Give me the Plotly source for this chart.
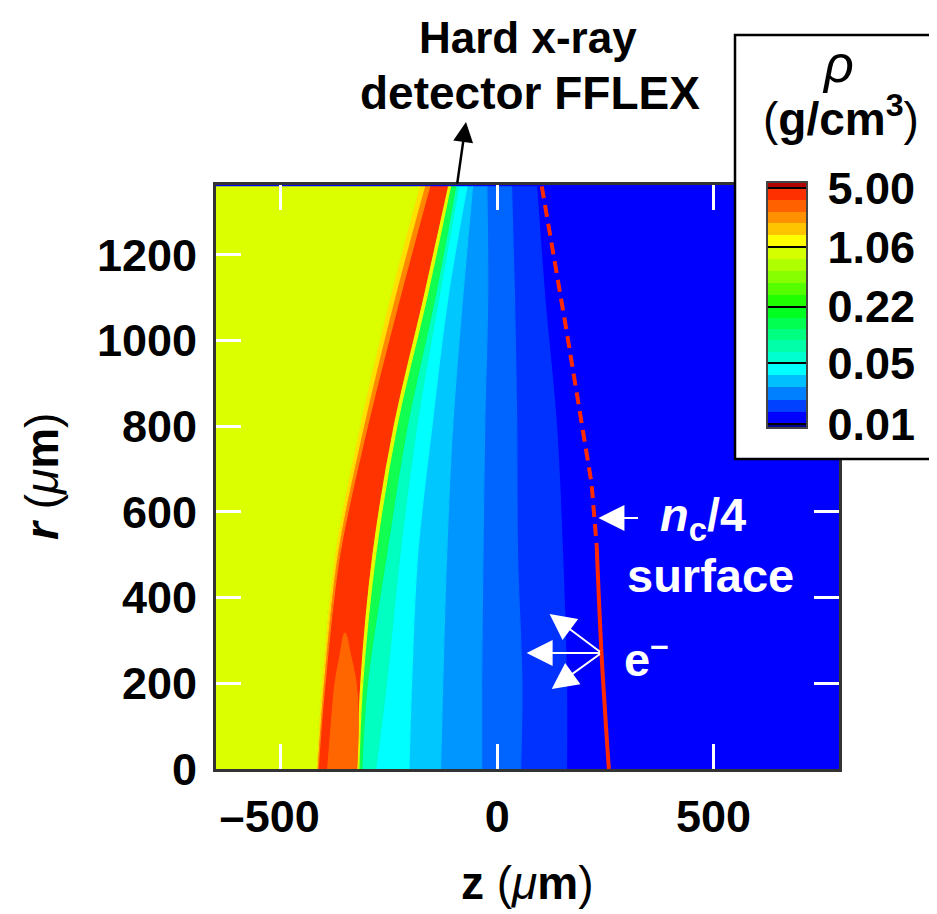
import math
import plotly.graph_objects as go

FONT = "Liberation Sans"

# ---------------- data ----------------
# r (um) at which the z position (um) of each density band edge was read
r_levels = [0, 200, 500, 800, 1100, 1360]

edge_left      = [-700, -700, -700, -700, -700, -700]
edge_yg        = [-418, -406, -376, -318, -248, -180]
edge_yellow    = [-416, -402, -370, -309, -237, -168]
edge_orange    = [-414, -398, -364, -300, -225, -156]
edge_red       = [-325, -318, -290, -241, -172, -115]
edge_yellow2   = [-320, -311, -281, -232, -163, -108]
edge_green     = [-313, -300, -256, -208, -144, -96]
edge_aqua      = [-281, -256, -225, -186, -135, -89]
edge_cyan      = [-204, -198, -184, -151, -114, -70]
edge_lightblue = [-131, -126, -117, -103, -80, -57]
edge_midblue   = [-36, -36, -33, -29, -22, -24]
edge_blue1     = [54, 57, 47, 45, 40, 33]
edge_blue2     = [160, 160, 151, 137, 110, 91]

band_edges = [edge_yg, edge_yellow, edge_orange, edge_red, edge_yellow2, edge_green,
              edge_aqua, edge_cyan, edge_lightblue, edge_midblue, edge_blue1, edge_blue2]
band_colors = ["#dcff00", "#ffe000", "#ff8800", "#ff3300", "#e4ff00", "#10ff50",
               "#00ffc0", "#00ffff", "#00c8ff", "#0096ff", "#0064ff", "#0032ff"]
low_density_color = "#0000ff"

# orange tongue inside the dense shell
tongue_z = [-392, -384, -375, -364, -352, -338, -326, -321, -325]
tongue_r = [0, 100, 200, 262, 318, 262, 200, 100, 0]
tongue_color = "#ff6600"

# n_c/4 surface
nc4_dash_z = [103, 160, 218, 230]
nc4_dash_r = [1360, 1024, 667, 520]
nc4_solid_z = [230, 241, 258]
nc4_solid_r = [520, 271, 0]

# colour bar
cb_values = [0.01, 0.05, 0.22, 1.06, 5.00]
cb_labels = ["0.01", "0.05", "0.22", "1.06", "5.00"]
cb_section_colors = [
    ["#0000ff", "#0040ff", "#0080ff", "#00bfff", "#00ffff"],
    ["#00ffd0", "#00ffa8", "#00ff80", "#00ff50", "#00ff20"],
    ["#20ff00", "#55ff00", "#88ff00", "#b0ff00", "#d4ff00"],
    ["#ffff00", "#ffc400", "#ff9000", "#ff6000", "#ff3000"],
]
cb_below_color = "#000090"
cb_above_color = "#b00000"

x_ticks = [-500, 0, 500]
x_ticktext = ["\u2013500\u2002", "0", "500"]
y_ticks = [0, 200, 400, 600, 800, 1000, 1200]

# ---------------- figure ----------------
fig = go.Figure()

# left edge of the band stack
fig.add_trace(go.Scatter(x=edge_left, y=r_levels, mode="lines",
                         line=dict(width=0), hoverinfo="skip", showlegend=False))
for edge, col in zip(band_edges, band_colors):
    fig.add_trace(go.Scatter(x=edge, y=r_levels, mode="lines", fill="tonextx",
                             fillcolor=col, line=dict(color=col, width=1.2, shape="spline"),
                             hoverinfo="skip", showlegend=False))

fig.add_trace(go.Scatter(x=tongue_z, y=tongue_r, mode="lines", fill="toself",
                         fillcolor=tongue_color, line=dict(color=tongue_color, width=1, shape="spline"),
                         hoverinfo="skip", showlegend=False))

red = "#ff2a00"
fig.add_trace(go.Scatter(x=nc4_dash_z, y=nc4_dash_r, mode="lines",
                         line=dict(color=red, width=4, dash="12px,7px"),
                         hoverinfo="skip", showlegend=False))
fig.add_trace(go.Scatter(x=nc4_solid_z, y=nc4_solid_r, mode="lines",
                         line=dict(color=red, width=4, shape="spline"),
                         hoverinfo="skip", showlegend=False))

# colour scale in log10(rho)
logs = [math.log10(v) for v in cb_values]
cmin = logs[0] - 0.045
cmax = logs[-1] + 0.07
blk = 0.012
segs = [(cmin, logs[0] - blk, cb_below_color), (logs[0] - blk, logs[0] + blk, "#000000")]
for i in range(4):
    a, b = logs[i], logs[i + 1]
    w = (b - a) / 5
    for k in range(5):
        s, e = a + k * w, a + (k + 1) * w
        if k == 0:
            s += blk
        if k == 4:
            e -= blk
        segs.append((s, e, cb_section_colors[i][k]))
    segs.append((b - blk, b + blk, "#000000"))
segs.append((logs[-1] + blk, cmax, cb_above_color))
span = cmax - cmin
cscale = []
for s, e, c in segs:
    cscale.append([max(0.0, (s - cmin) / span), c])
    cscale.append([min(1.0, (e - cmin) / span), c])
cscale[0][0] = 0.0
cscale[-1][0] = 1.0

# page geometry (px); the page body adds an 8 px offset to the figure
OFF = 8
FIG_W, FIG_H = 937 - OFF, 914 - OFF
L, R, T, B = 216, 839, 185, 769
W, H = R - L, B - T
def px(xp):
    return (xp - L) / W
def py(yp):
    return (B - yp) / H

fig.add_trace(go.Scatter(
    x=[-5000], y=[-5000], mode="markers",
    marker=dict(size=1, color=[cmin], colorscale=cscale, cmin=cmin, cmax=cmax, showscale=True,
                colorbar=dict(x=px(767), xanchor="left", y=py(305), yanchor="middle",
                              len=246, lenmode="pixels", thickness=40, thicknessmode="pixels",
                              xpad=0, ypad=0, outlinecolor="#444", outlinewidth=2,
                              tickvals=logs, ticktext=cb_labels, ticks="outside", ticklen=11,
                              tickcolor="rgba(0,0,0,0)",
                              tickfont=dict(family=FONT, size=45, color="black", weight="bold"))),
    hoverinfo="skip", showlegend=False))

axis_common = dict(ticks="inside", ticklen=25, tickwidth=2.5, tickcolor="white",
                   showline=True, linecolor="#333333", linewidth=3, mirror="ticks",
                   showgrid=False, zeroline=False,
                   tickfont=dict(family=FONT, size=45, color="black", weight="bold"))

fig.update_xaxes(range=[-650, 790], tickvals=x_ticks, ticktext=x_ticktext,
                 ticklabelstandoff=6, **axis_common)
fig.update_yaxes(range=[0, 1363], tickvals=y_ticks, ticklabelstandoff=7, **axis_common)

# white box holding the colour bar
fig.add_shape(type="rect", xref="paper", yref="paper",
              x0=px(735), x1=px(935.5), y0=py(459), y1=py(35),
              fillcolor="white", line=dict(color="black", width=2.5), layer="above")

ann = []
big = dict(family=FONT, size=46, color="black")
ann.append(dict(xref="paper", yref="paper", x=px(527), y=py(883), text="<b>z</b> (<i>\u03bc</i><b>m</b>)",
                showarrow=False, font=big, xanchor="center", yanchor="middle"))
ann.append(dict(xref="paper", yref="paper", x=px(42), y=py(477), text="<b><i>r</i></b> (<i>\u03bc</i><b>m</b>)",
                showarrow=False, font=big, textangle=-90, xanchor="center", yanchor="middle"))
ann.append(dict(xref="paper", yref="paper", x=px(528), y=py(37.5), text="<b>Hard x-ray</b>",
                showarrow=False, font=dict(family=FONT, size=44, color="black"),
                xanchor="center", yanchor="middle", borderpad=0))
ann.append(dict(xref="paper", yref="paper", x=px(530), y=py(93), text="<b>detector FFLEX</b>",
                showarrow=False, font=big, xanchor="center", yanchor="middle"))
ann.append(dict(xref="paper", yref="paper", x=px(466), y=py(122), ax=-9, ay=63, text="",
                showarrow=True, arrowhead=2, arrowsize=1.6, arrowwidth=2.5, arrowcolor="black"))
ann.append(dict(xref="paper", yref="paper", x=px(838), y=py(64), text="<i>\u03c1</i>",
                showarrow=False, font=dict(family=FONT, size=52, color="black"),
                xanchor="center", yanchor="middle"))
ann.append(dict(xref="paper", yref="paper", x=px(841), y=py(116),
                text="(<b>g/cm</b><sup><b>3</b></sup>)",
                showarrow=False, font=dict(family=FONT, size=46, color="black"),
                xanchor="center", yanchor="middle"))

white = dict(family=FONT, size=47, color="white")
ann.append(dict(x=372, y=585, text="<b><i>n</i><sub>c</sub>/4</b>", showarrow=False, font=white,
                xanchor="left", yanchor="middle"))
ann.append(dict(x=296, y=452, text="<b>surface</b>", showarrow=False, font=white,
                xanchor="left", yanchor="middle"))
ann.append(dict(x=288, y=263, text="<b>e<sup>\u2013</sup></b>", showarrow=False, font=white,
                xanchor="left", yanchor="middle"))
# arrows (data coordinates)
ann.append(dict(x=234, y=586, ax=329, ay=586, axref="x", ayref="y", text="", showarrow=True,
                arrowhead=2, arrowsize=2.6, arrowwidth=2, arrowcolor="white"))
for hx, hy in [(121, 362), (68, 271), (126, 187)]:
    ann.append(dict(x=hx, y=hy, ax=241, ay=271, axref="x", ayref="y", text="", showarrow=True,
                    arrowhead=2, arrowsize=2.6, arrowwidth=2, arrowcolor="white"))

fig.update_layout(width=FIG_W, height=FIG_H, autosize=False,
                  margin=dict(l=L - OFF, r=FIG_W - (R - OFF), t=T - OFF, b=FIG_H - (B - OFF),
                              autoexpand=False),
                  plot_bgcolor=low_density_color, paper_bgcolor="white",
                  annotations=ann, showlegend=False)

fig.write_html("out.html")
